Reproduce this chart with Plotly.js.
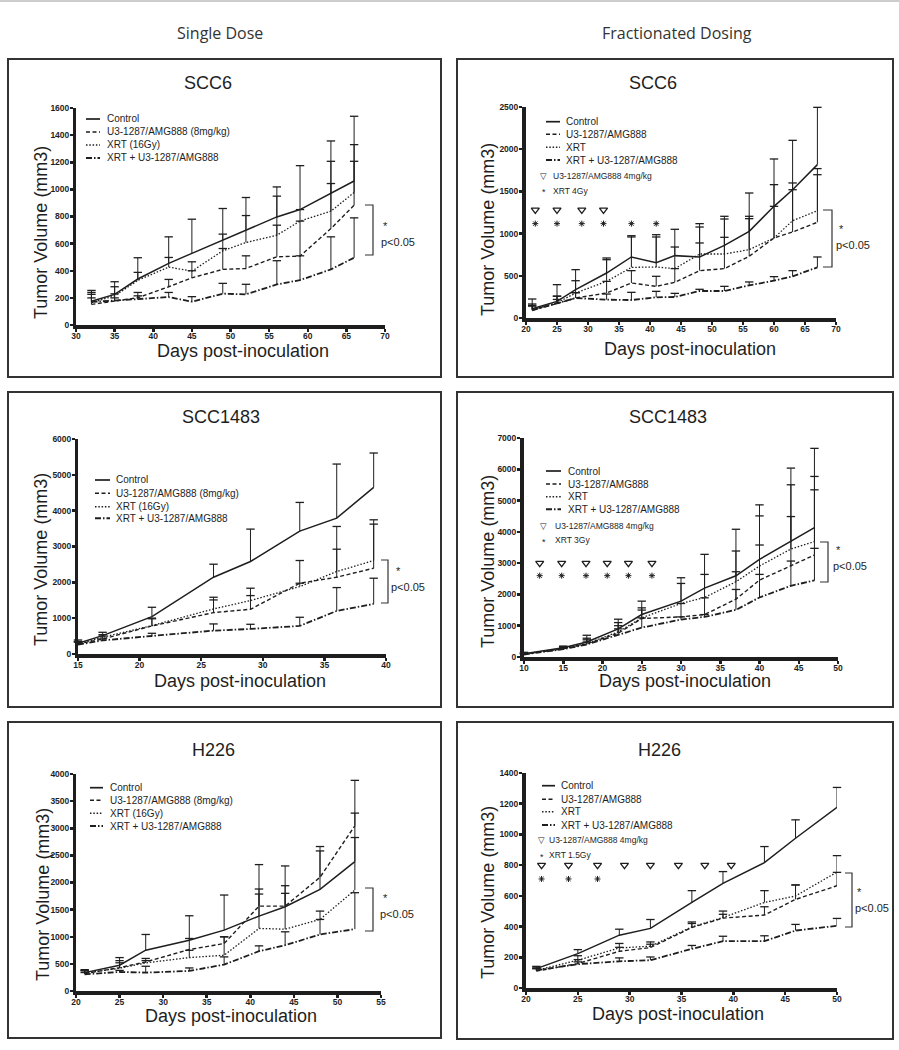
<!DOCTYPE html>
<html><head><meta charset="utf-8">
<script src="https://cdn.plot.ly/plotly-3.0.1.min.js"></script>
<style>html,body{margin:0;padding:0;background:#fff}#chart{width:899px;height:1050px}</style>
</head><body><div id="chart"></div>
<script>
// ================= DATA =================
// Single dose, SCC6
const tlDays = [32,35,38,42,45,49,52,56,59,63,66];
const tlControl = [175,226,339,454,528,626,700,797,851,969,1062];
const tlControlErr = [80,93,157,196,252,233,240,221,324,388,477];
const tlU3 = [152,179,201,282,348,410,417,503,508,711,883];
const tlU3Err = [74,51,39,54,52,154,93,233,258,332,324];
const tlXrt = [165,215,329,427,397,547,608,662,766,839,977];
const tlXrtErr = [75,67,59,71,69,123,199,288,85,368,353];
const tlCombo = [170,179,191,206,172,231,226,299,331,410,496];
const tlComboErr = [30,21,24,34,37,76,74,175,179,240,294];

// Fractionated, SCC6
const trDays = [21,25,28,33,37,41,44,48,52,56,60,63,67];
const trControl = [110,197,336,533,723,656,739,723,861,1027,1323,1520,1817];
const trControlErr = [115,198,237,178,252,331,312,395,344,454,561,585,679];
const trU3 = [95,170,237,296,415,375,423,561,585,731,948,1019,1134];
const trU3Err = [45,50,63,138,146,119,162,328,371,446,375,501,564];
const trXrt = [100,180,296,434,600,604,585,758,758,810,948,1153,1272];
const trXrtErr = [50,80,146,257,360,356,256,320,415,395,632,447,498];
const trCombo = [91,178,237,217,213,245,249,320,320,387,442,494,600];
const trComboErr = [75,79,63,67,91,71,43,20,55,40,48,67,123];
const trAbDoseDays = [21.5,25,29,32.5];
const trXrtDoseDays = [21.5,25,29,32.5,37,41];

// Single dose, SCC1483
const mlDays = [15,17,21,26,29,33,36,39];
const mlControl = [298,512,1044,2143,2581,3429,3792,4649];
const mlControlErr = [93,94,260,363,904,801,1509,960];
const mlU3 = [280,419,783,1155,1248,1975,2143,2394];
const mlU3Err = [60,81,200,354,382,634,782,1230];
const mlXrt = [280,466,792,1258,1491,1882,2301,2609];
const mlXrtErr = [70,74,210,326,345,93,1258,1136];
const mlCombo = [260,380,503,652,699,783,1202,1398];
const mlComboErr = [70,40,75,187,130,242,652,717];

// Fractionated, SCC1483
const mrDays = [10,15,18,22,25,30,33,37,40,44,47];
const mrControl = [107,299,481,898,1357,1785,2202,2597,3121,3687,4136];
const mrControlErr = [43,51,214,310,428,748,1079,1486,1742,2351,2533];
const mrU3 = [85,260,420,760,1230,1282,1357,1849,2458,2907,3260];
const mrU3Err = [25,50,130,240,270,428,535,876,1122,1582,2084];
const mrXrt = [90,280,430,802,1250,1710,1902,2405,2907,3452,3687];
const mrXrtErr = [30,50,170,298,321,641,738,983,1603,2052,2084];
const mrCombo = [80,250,400,716,940,1197,1282,1507,1902,2276,2447];
const mrComboErr = [20,40,80,184,310,85,75,652,738,791,1026];
const mrAbDoseDays = [12,14.8,17.9,20.6,23.3,26.3];
const mrXrtDoseDays = [12,14.8,17.9,20.6,23.3,26.3];

// Single dose, H226
const blDays = [21,25,28,33,37,41,44,48,52];
const blControl = [339,475,752,937,1122,1381,1553,1874,2385];
const blControlErr = [55,141,290,450,647,949,752,789,1498];
const blU3 = [320,431,536,764,875,1565,1565,2096,3045];
const blU3Err = [60,129,64,204,123,315,376,486,234];
const blXrt = [330,420,518,616,659,1153,1140,1319,1861];
const blXrtErr = [40,100,42,134,341,634,660,154,968];
const blCombo = [308,351,339,370,487,733,844,1042,1140];
const blComboErr = [32,29,117,55,142,99,247,277,672];

// Fractionated, H226
const brDays = [21,25,29,32,36,39,43,46,50];
const brControl = [126,224,344,388,557,681,816,975,1176];
const brControlErr = [15,26,39,58,77,77,105,120,130];
const brU3 = [110,159,239,263,394,455,475,577,666];
const brU3Err = [15,26,26,22,26,25,54,94,87];
const brXrt = [115,181,261,272,398,459,557,599,755];
const brXrtErr = [15,29,29,28,32,42,77,72,107];
const brCombo = [115,155,174,181,255,305,305,374,405];
const brComboErr = [15,15,22,21,22,32,35,40,48];
const brAbDoseDays = [21.5,24.1,26.9,29.5,32,34.7,37.25,39.8];
const brXrtDoseDays = [21.5,24.1,26.9];

const singleLabels = ['Control','U3-1287/AMG888 (8mg/kg)','XRT (16Gy)','XRT + U3-1287/AMG888'];
const fracLabels = ['Control','U3-1287/AMG888','XRT','XRT + U3-1287/AMG888'];
const columnHeaders = ['Single Dose','Fractionated Dosing'];

// ================= LAYOUT / STYLE =================
const W = 899, H = 1050;
const PX = v => v / W, PY = v => 1 - v / H;
const INK = '#1e1e1e';
const ARIAL = 'Liberation Sans, Arial, Helvetica, sans-serif';
const NARROW = 'Liberation Sans Narrow, Arial Narrow, Liberation Sans, Arial, sans-serif';

const styles = [
  {width:1.5, dash:'solid'},
  {width:1.4, dash:'4px,2.5px'},
  {width:1.3, dash:'1.5px,1.8px'},
  {width:1.8, dash:'6px,2px,1.5px,2px'}
];

const panels = [
  {title:'SCC6', days:tlDays, series:[[tlControl,tlControlErr],[tlU3,tlU3Err],[tlXrt,tlXrtErr],[tlCombo,tlComboErr]],
   xr:[30,70], ymax:1600, ystep:200, dom:{x:[76,385], y:[108,325]}, ylw:3, labels:singleLabels,
   box:[8,59,441,377], titlePos:[208,83], xtPos:[243,351], ytPos:[41,233],
   leg:{rows:[119,132,145,158], sx:[86,100], tx:105},
   br:{x:[365,373], y:[205,255], star:[385,234], p:[398,234]}},
  {title:'SCC6', days:trDays, series:[[trControl,trControlErr],[trU3,trU3Err],[trXrt,trXrtErr],[trCombo,trComboErr]],
   xr:[20,70], ymax:2500, ystep:500, dom:{x:[526,836], y:[107,318]}, ylw:4, labels:fracLabels,
   box:[457,59,893,377], titlePos:[653,83], xtPos:[690,349], ytPos:[488,230],
   leg:{rows:[121.7,134.3,147.3,160], sx:[546,560], tx:564},
   dose:{ab:trAbDoseDays, abY:1280, xrt:trXrtDoseDays, xrtY:1118, label:'XRT 4Gy', rows:[176,190.7], sym:543.5, tx:551},
   br:{x:[823,832], y:[210,267], star:[841,237], p:[853,237]}},
  {title:'SCC1483', days:mlDays, series:[[mlControl,mlControlErr],[mlU3,mlU3Err],[mlXrt,mlXrtErr],[mlCombo,mlComboErr]],
   xr:[15,40], ymax:6000, ystep:1000, dom:{x:[78,386], y:[439,654]}, ylw:3, labels:singleLabels,
   box:[8,392,441,707], titlePos:[221,417], xtPos:[240,681], ytPos:[41,560],
   leg:{rows:[480,493.3,506.7,518.3], sx:[95,110], tx:114},
   br:{x:[381,388], y:[560,603], star:[398,579], p:[408,579]}},
  {title:'SCC1483', days:mrDays, series:[[mrControl,mrControlErr],[mrU3,mrU3Err],[mrXrt,mrXrtErr],[mrCombo,mrComboErr]],
   xr:[10,50], ymax:7000, ystep:1000, dom:{x:[524,838], y:[438,657]}, ylw:4, labels:fracLabels,
   box:[457,392,893,707], titlePos:[668,417], xtPos:[685,681], ytPos:[488,562],
   leg:{rows:[471,484,496.7,509.3], sx:[546,561], tx:566},
   dose:{ab:mrAbDoseDays, abY:3000, xrt:mrXrtDoseDays, xrtY:2600, label:'XRT 3Gy', rows:[526,540], sym:543.5, tx:553},
   br:{x:[820,828], y:[542,582], star:[838,558], p:[850,558]}},
  {title:'H226', days:blDays, series:[[blControl,blControlErr],[blU3,blU3Err],[blXrt,blXrtErr],[blCombo,blComboErr]],
   xr:[20,55], ymax:4000, ystep:500, dom:{x:[76,381], y:[774,991]}, ylw:3, labels:singleLabels,
   box:[8,722,441,1038], titlePos:[213,750], xtPos:[231,1016], ytPos:[43,895],
   leg:{rows:[787.7,800.3,813.3,826], sx:[90,103], tx:108},
   br:{x:[365,373], y:[888,931], star:[385,906], p:[397,906]}},
  {title:'H226', days:brDays, series:[[brControl,brControlErr],[brU3,brU3Err],[brXrt,brXrtErr],[brCombo,brComboErr]],
   xr:[20,50], ymax:1400, ystep:200, dom:{x:[526,837], y:[773,988]}, ylw:4, labels:fracLabels,
   box:[457,722,893,1039], titlePos:[659,750], xtPos:[678,1014], ytPos:[488,893],
   leg:{rows:[785.7,799.3,811.7,825], sx:[542,555], tx:559},
   dose:{ab:brAbDoseDays, abY:800, xrt:brXrtDoseDays, xrtY:710, label:'XRT 1.5Gy', rows:[840,855], sym:541.5, tx:547},
   br:{x:[845,852], y:[873,927], star:[859,900], p:[872,900]}}
];

const traces = [];
const layout = {
  width:W, height:H, margin:{l:0,r:0,t:0,b:0}, paper_bgcolor:'#fff', plot_bgcolor:'rgba(0,0,0,0)',
  showlegend:false, shapes:[], annotations:[], font:{family:ARIAL, color:INK}
};

function ann(text, x, y, size, opts) {
  layout.annotations.push(Object.assign({text:text, x:PX(x), y:PY(y), xref:'paper', yref:'paper', showarrow:false,
    font:{size:size, family:ARIAL, color:INK}, xanchor:'center', yanchor:'middle'}, opts||{}));
}

// header line & column headers
layout.shapes.push({type:'line', xref:'paper', yref:'paper', x0:0, x1:1, y0:PY(1), y1:PY(1), line:{color:'#9a9a9a', width:1}});
ann(columnHeaders[0], 220, 33, 16, {font:{size:16, family:'Open Sans, Liberation Sans, sans-serif', color:'#333'}});
ann(columnHeaders[1], 677, 33, 16, {font:{size:16, family:'Open Sans, Liberation Sans, sans-serif', color:'#333'}});

panels.forEach((p, idx) => {
  const n = idx === 0 ? '' : String(idx + 1);
  const xa = 'x' + n, ya = 'y' + n;
  const tickfont = {size:8.5, family:NARROW, color:INK, weight:'bold'};
  layout['xaxis' + n] = {
    domain:[PX(p.dom.x[0]), PX(p.dom.x[1])], anchor:ya, range:p.xr, tick0:p.xr[0], dtick:5,
    showgrid:false, zeroline:false, showline:true, linecolor:INK, linewidth:3.5,
    ticks:'outside', ticklen:3, tickwidth:2.5, tickcolor:INK, ticklabelstandoff:-3,
    tickfont:tickfont, fixedrange:true
  };
  layout['yaxis' + n] = {
    domain:[PY(p.dom.y[1]), PY(p.dom.y[0])], anchor:xa, range:[0, p.ymax], tick0:0, dtick:p.ystep,
    showgrid:false, zeroline:false, showline:true, linecolor:INK, linewidth:p.ylw,
    ticks:'outside', ticklen:3, tickwidth:2.5, tickcolor:INK, ticklabelstandoff:-1,
    tickfont:tickfont, fixedrange:true
  };
  p.series.forEach((s, k) => {
    const mean = s[0], err = s[1], st = styles[k];
    const ex = [], ey = [], cx = [], cy = [];
    p.days.forEach((d, i) => {
      if (err[i] == null) return;
      ex.push(d, d, null); ey.push(mean[i], mean[i] + err[i], null);
      cx.push(d); cy.push(mean[i] + err[i]);
    });
    traces.push({type:'scatter', mode:'lines', x:ex, y:ey, xaxis:xa, yaxis:ya, line:{color:INK, width:1}, hoverinfo:'skip', cliponaxis:false});
    traces.push({type:'scatter', mode:'markers', x:cx, y:cy, xaxis:xa, yaxis:ya, cliponaxis:false, hoverinfo:'skip',
      marker:{symbol:'line-ew-open', size:6, color:INK, line:{width:1.3, color:INK}}});
    traces.push({type:'scatter', mode:'lines', x:p.days, y:mean, xaxis:xa, yaxis:ya, hoverinfo:'skip',
      line:{color:INK, width:st.width, dash:st.dash}});
    const ry = p.leg.rows[k];
    layout.shapes.push({type:'line', xref:'paper', yref:'paper', x0:PX(p.leg.sx[0]), x1:PX(p.leg.sx[1]), y0:PY(ry), y1:PY(ry),
      line:{color:INK, width:st.width + 0.2, dash:st.dash}});
    ann(p.labels[k], p.leg.tx, ry, 10, {xanchor:'left'});
  });
  if (p.dose) {
    const d = p.dose;
    traces.push({type:'scatter', mode:'markers', x:d.ab, y:d.ab.map(() => d.abY), xaxis:xa, yaxis:ya, cliponaxis:false, hoverinfo:'skip',
      marker:{symbol:'triangle-down-open', size:7, color:INK, line:{width:1.3, color:INK}}});
    traces.push({type:'scatter', mode:'markers', x:d.xrt, y:d.xrt.map(() => d.xrtY), xaxis:xa, yaxis:ya, cliponaxis:false, hoverinfo:'skip',
      marker:{symbol:'asterisk-open', size:5, color:INK, line:{width:1, color:INK}}});
    ann('\u25BD', d.sym, d.rows[0], 8.5, {font:{size:8.5, family:'DejaVu Sans, sans-serif', color:INK}});
    ann('U3-1287/AMG888 4mg/kg', d.tx, d.rows[0], 8.5, {xanchor:'left'});
    ann('*', d.sym, d.rows[1] + 1.5, 9, {});
    ann(d.label, d.tx, d.rows[1], 8.5, {xanchor:'left'});
  }
  layout.shapes.push({type:'rect', xref:'paper', yref:'paper', x0:PX(p.box[0]), x1:PX(p.box[2]), y0:PY(p.box[3]), y1:PY(p.box[1]),
    line:{color:'#333', width:2}});
  ann(p.title, p.titlePos[0], p.titlePos[1], 18);
  ann('Days post-inoculation', p.xtPos[0], p.xtPos[1], 18);
  ann('Tumor Volume (mm3)', p.ytPos[0], p.ytPos[1], 18, {textangle:-90});
  const b = p.br;
  layout.shapes.push({type:'path', xref:'paper', yref:'paper',
    path:'M' + PX(b.x[0]) + ',' + PY(b.y[0]) + ' L' + PX(b.x[1]) + ',' + PY(b.y[0]) + ' L' + PX(b.x[1]) + ',' + PY(b.y[1]) + ' L' + PX(b.x[0]) + ',' + PY(b.y[1]),
    line:{color:'#333', width:1.2}});
  ann('*', b.star[0], b.star[1], 11, {yanchor:'bottom'});
  ann('p<0.05', b.p[0], b.p[1], 11, {yanchor:'top'});
});

Plotly.newPlot('chart', traces, layout, {staticPlot:true, displayModeBar:false});
</script></body></html>
